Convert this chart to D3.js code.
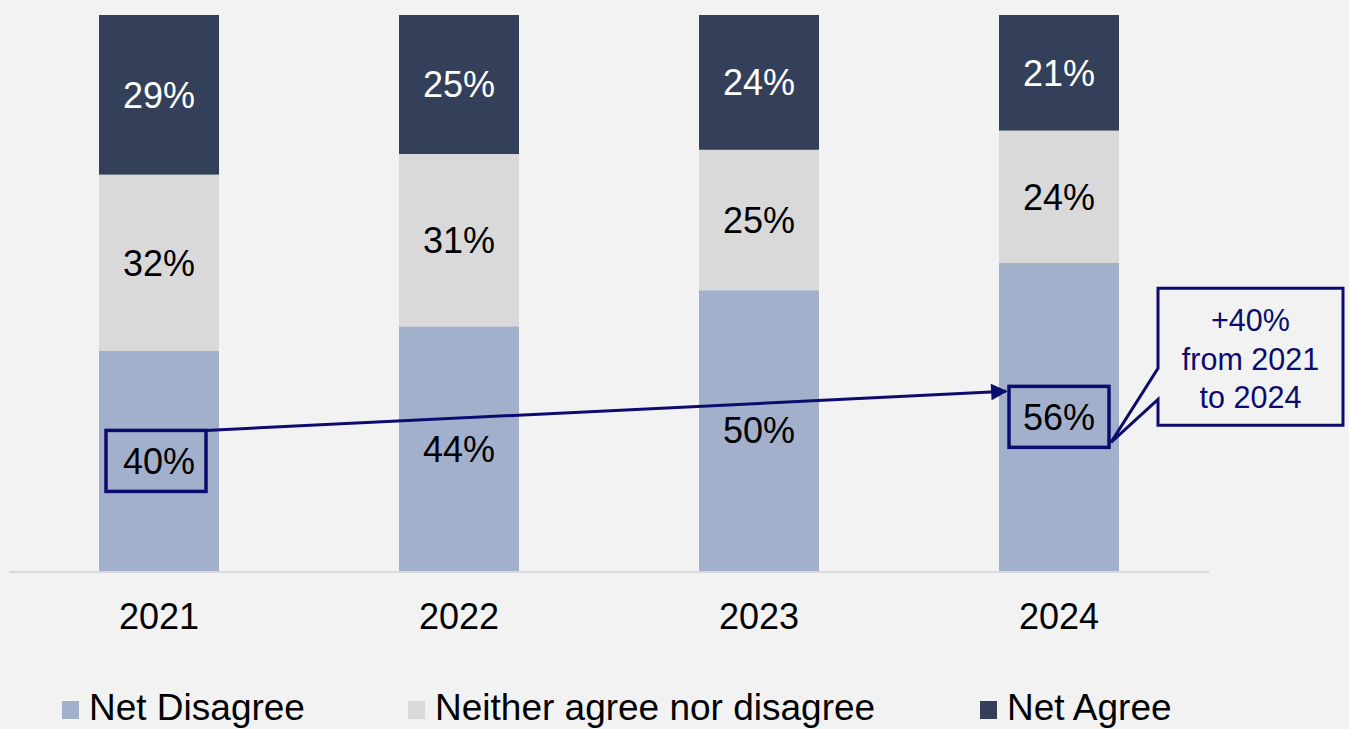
<!DOCTYPE html>
<html>
<head>
<meta charset="utf-8">
<script src="https://cdn.jsdelivr.net/npm/d3@7"></script>
<style>
  html, body { margin: 0; padding: 0; background: #f2f2f2; }
  svg { display: block; }
  text { font-family: "Liberation Sans", Arial, Helvetica, sans-serif; }
</style>
</head>
<body>
<svg id="chart" width="1349" height="729"></svg>
<script>
// Survey responses by year (percent of respondents)
const years = ["2021", "2022", "2023", "2024"];
const netDisagree = [40, 44, 50, 56];
const neither = [32, 31, 25, 24];
const netAgree = [29, 25, 24, 21];

const seriesNames = ["Net Disagree", "Neither agree nor disagree", "Net Agree"];
const seriesColors = ["#a3b0cb", "#d9d9d9", "#344059"];
const labelColors = ["#000000", "#000000", "#ffffff"];

const calloutLines = ["+40%", "from 2021", "to 2024"];

const W = 1349, H = 729;
const navy = "#0c0c6e";
const svg = d3.select("#chart");

svg.append("rect").attr("width", W).attr("height", H).attr("fill", "#f2f2f2");

// Rows for the stack; each bar is normalised to 100%
const rows = years.map((y, i) => {
  const total = netDisagree[i] + neither[i] + netAgree[i];
  return {
    year: y,
    total,
    "Net Disagree": netDisagree[i],
    "Neither agree nor disagree": neither[i],
    "Net Agree": netAgree[i]
  };
});

const stack = d3.stack()
  .keys(seriesNames)
  .value((d, k) => d[k] / d.total);
const stacked = stack(rows);

const x = d3.scaleBand()
  .domain(years)
  .range([9, 1209])
  .paddingInner(0.6)
  .paddingOuter(0.3);

const y = d3.scaleLinear().domain([0, 1]).range([571, 15]);

// Bars
const layers = svg.append("g").selectAll("g")
  .data(stacked)
  .join("g")
  .attr("fill", (d, i) => seriesColors[i]);

layers.selectAll("rect")
  .data(d => d)
  .join("rect")
  .attr("x", d => x(d.data.year))
  .attr("y", d => y(d[1]))
  .attr("width", x.bandwidth())
  .attr("height", d => y(d[0]) - y(d[1]));

// Segment value labels
stacked.forEach((layer, si) => {
  svg.append("g").selectAll("text")
    .data(layer)
    .join("text")
    .attr("x", d => x(d.data.year) + x.bandwidth() / 2)
    .attr("y", d => (y(d[0]) + y(d[1])) / 2 + 36 * 0.358)
    .attr("text-anchor", "middle")
    .attr("font-size", 36)
    .attr("fill", labelColors[si])
    .text(d => d.data[layer.key] + "%");
});

// Baseline axis
const xAxis = svg.append("g")
  .attr("transform", `translate(0,${y(0)})`)
  .call(d3.axisBottom(x).tickSize(0).tickPadding(0));
xAxis.select(".domain").attr("stroke", "#d9d9d9").attr("stroke-width", 2)
  .attr("d", `M9,1H1209`);
xAxis.selectAll(".tick text")
  .attr("font-size", 36)
  .attr("fill", "#000")
  .attr("dy", null)
  .attr("y", 58)
  .style("font-family", '"Liberation Sans", Arial, sans-serif');

// Highlight boxes around first and last Net Disagree values
const disagreeLayer = stacked[0];
const first = disagreeLayer[0], last = disagreeLayer[disagreeLayer.length - 1];
const boxW = 100, boxH = 61;
function boxOf(d, dx) {
  const cx = x(d.data.year) + x.bandwidth() / 2 + dx;
  const cy = (y(d[0]) + y(d[1])) / 2;
  return { x0: cx - boxW / 2, y0: cy - boxH / 2, x1: cx + boxW / 2, y1: cy + boxH / 2 };
}
const b1 = boxOf(first, -3);
const b2 = boxOf(last, 0);

const ann = svg.append("g");
[b1, b2].forEach(b => {
  ann.append("rect")
    .attr("x", b.x0).attr("y", b.y0)
    .attr("width", boxW).attr("height", boxH)
    .attr("fill", "none").attr("stroke", navy).attr("stroke-width", 3.5);
});

// Arrow from 2021 box to 2024 box
svg.append("defs").append("marker")
  .attr("id", "arrowhead")
  .attr("viewBox", "0 0 10 10")
  .attr("refX", 9).attr("refY", 5)
  .attr("markerWidth", 6).attr("markerHeight", 5.5)
  .attr("orient", "auto")
  .attr("markerUnits", "strokeWidth")
  .append("path").attr("d", "M0,0 L10,5 L0,10 Z").attr("fill", navy);

ann.append("line")
  .attr("x1", b1.x1).attr("y1", b1.y0)
  .attr("x2", b2.x0 - 3).attr("y2", b2.y0 + 5)
  .attr("stroke", navy).attr("stroke-width", 3)
  .attr("marker-end", "url(#arrowhead)");

// Callout box with pointer to the 2024 value
const cx0 = b2.x1 + 49, cx1 = cx0 + 185, cy0 = b2.y0 - 98, cy1 = cy0 + 137;
const tipX = b2.x1 + 2, tipY = b2.y1 - 35;
ann.append("path")
  .attr("d", `M${cx0},${cy0} H${cx1} V${cy1} H${cx0} V${cy0 + 111} L${tipX},${tipY + 30} L${cx0},${cy0 + 80} Z`)
  .attr("fill", "#f2f2f2").attr("stroke", navy).attr("stroke-width", 3)
  .attr("stroke-linejoin", "miter");

ann.append("g").selectAll("text")
  .data(calloutLines)
  .join("text")
  .attr("x", (cx0 + cx1) / 2)
  .attr("y", (d, i) => cy0 + 43 + i * 38.5)
  .attr("text-anchor", "middle")
  .attr("font-size", 30.5)
  .attr("fill", navy)
  .text(d => d);

// Legend
const legendX = [62, 408, 980];
const legend = svg.append("g").selectAll("g")
  .data(seriesNames)
  .join("g")
  .attr("transform", (d, i) => `translate(${legendX[i]},0)`);
legend.append("rect")
  .attr("x", 0).attr("y", 701)
  .attr("width", 17).attr("height", 18)
  .attr("fill", (d, i) => seriesColors[i]);
legend.append("text")
  .attr("x", 27).attr("y", 720)
  .attr("font-size", 37)
  .attr("fill", "#000")
  .text(d => d);
</script>
</body>
</html>
